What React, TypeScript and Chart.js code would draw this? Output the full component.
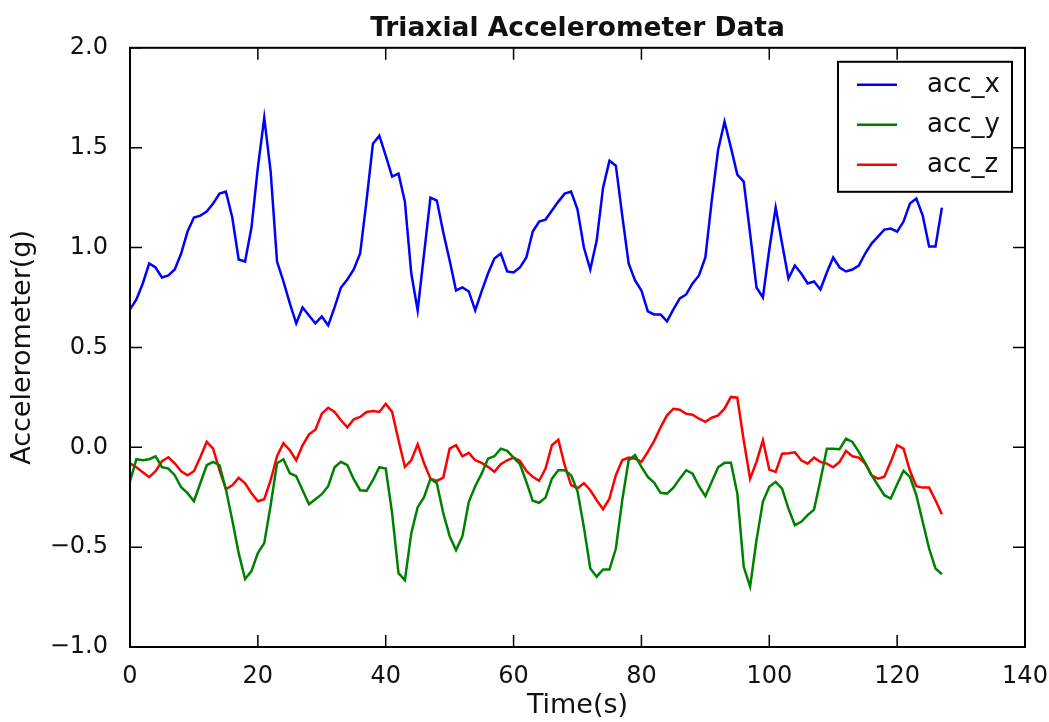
import React, { useEffect, useRef } from "react";
import { Chart, registerables } from "chart.js";

Chart.register(...registerables);

const chartTitle = "Triaxial Accelerometer Data";
const xAxisTitle = "Time(s)";
const yAxisTitle = "Accelerometer(g)";
const seriesNames = ["acc_x", "acc_y", "acc_z"];
const seriesColors = ["#0000ff", "#008000", "#ff0000"];

const xTickValues = [0, 20, 40, 60, 80, 100, 120, 140];
const yTickValues = [-1.0, -0.5, 0.0, 0.5, 1.0, 1.5, 2.0];
const yTickLabels = ["\u22121.0", "\u22120.5", "0.0", "0.5", "1.0", "1.5", "2.0"];

const accX = [
  0.69, 0.74, 0.82, 0.92, 0.9, 0.85, 0.86, 0.89, 0.97, 1.08,
  1.15, 1.16, 1.18, 1.22, 1.27, 1.28, 1.15, 0.94, 0.93, 1.1,
  1.4, 1.65, 1.38, 0.93, 0.83, 0.72, 0.62, 0.7, 0.66, 0.62,
  0.655, 0.61, 0.7, 0.8, 0.84, 0.89, 0.97, 1.235, 1.52, 1.56,
  1.46, 1.355, 1.37, 1.23, 0.87, 0.685, 0.97, 1.25, 1.235, 1.077,
  0.935, 0.785, 0.8, 0.78, 0.685, 0.78, 0.87, 0.945, 0.97, 0.88,
  0.875, 0.9, 0.95, 1.08, 1.13, 1.14, 1.185, 1.23, 1.27, 1.28,
  1.19, 1.0, 0.89, 1.035, 1.3, 1.435, 1.41, 1.16, 0.92, 0.835,
  0.785, 0.68, 0.665, 0.665, 0.63, 0.69, 0.745, 0.765, 0.82, 0.86,
  0.95, 1.235, 1.49, 1.63, 1.5, 1.365, 1.33, 1.07, 0.8, 0.75,
  0.99, 1.2, 1.02, 0.845, 0.91, 0.87, 0.82, 0.83, 0.79, 0.875,
  0.95, 0.9, 0.88, 0.89, 0.91, 0.97, 1.02, 1.055, 1.09, 1.095,
  1.08, 1.13, 1.22, 1.245, 1.16, 1.005, 1.005, 1.2,
];

const accY = [
  -0.17, -0.06, -0.065, -0.06, -0.045, -0.1, -0.107, -0.14, -0.2, -0.23,
  -0.27, -0.18, -0.09, -0.073, -0.09, -0.21, -0.365, -0.53, -0.66, -0.62,
  -0.53, -0.48, -0.29, -0.08, -0.06, -0.13, -0.145, -0.215, -0.285, -0.26,
  -0.235, -0.195, -0.1, -0.073, -0.09, -0.16, -0.215, -0.218, -0.165, -0.1,
  -0.107, -0.33, -0.63, -0.665, -0.43, -0.3, -0.25, -0.157, -0.18, -0.33,
  -0.445, -0.515, -0.445, -0.273, -0.195, -0.132, -0.057, -0.045, -0.007, -0.018,
  -0.052, -0.085, -0.173, -0.268, -0.278, -0.252, -0.157, -0.115, -0.115, -0.14,
  -0.22, -0.4, -0.607, -0.648, -0.612, -0.612, -0.507, -0.265, -0.065, -0.04,
  -0.098, -0.148, -0.178, -0.228, -0.232, -0.202, -0.157, -0.115, -0.132, -0.195,
  -0.245, -0.173, -0.1, -0.078, -0.078, -0.232, -0.598, -0.698, -0.465, -0.273,
  -0.198, -0.173, -0.207, -0.307, -0.39, -0.373, -0.34, -0.312, -0.165, -0.007,
  -0.007, -0.01, 0.043, 0.027, -0.023, -0.078, -0.14, -0.19, -0.24, -0.257,
  -0.185, -0.118, -0.148, -0.24, -0.373, -0.507, -0.607, -0.635,
];

const accZ = [
  -0.08, -0.1, -0.125, -0.15, -0.12, -0.07, -0.05, -0.08, -0.12, -0.14,
  -0.12, -0.05, 0.027, -0.007, -0.115, -0.21, -0.19, -0.153, -0.18, -0.23,
  -0.27, -0.26, -0.165, -0.045, 0.02, -0.015, -0.065, 0.01, 0.065, 0.088,
  0.168, 0.198, 0.177, 0.135, 0.1, 0.14, 0.152, 0.177, 0.182, 0.177,
  0.218, 0.177, 0.035, -0.098, -0.065, 0.015, -0.08, -0.157, -0.168, -0.152,
  -0.007, 0.01, -0.045, -0.028, -0.065, -0.078, -0.098, -0.123, -0.085, -0.065,
  -0.052, -0.068, -0.118, -0.148, -0.168, -0.107, 0.01, 0.038, -0.09, -0.19,
  -0.205, -0.18, -0.215, -0.265, -0.31, -0.257, -0.14, -0.065, -0.052, -0.057,
  -0.073, -0.023, 0.032, 0.1, 0.16, 0.193, 0.188, 0.168, 0.163, 0.143,
  0.127, 0.148, 0.16, 0.193, 0.252, 0.248, 0.035, -0.157, -0.073, 0.035,
  -0.112, -0.123, -0.032, -0.03, -0.025, -0.065, -0.082, -0.052, -0.073, -0.082,
  -0.1, -0.073, -0.018, -0.045, -0.052, -0.082, -0.14, -0.157, -0.148, -0.073,
  0.01, -0.007, -0.118, -0.195, -0.202, -0.202, -0.265, -0.335,
];

const seriesValues = [accX, accY, accZ];
const FONT = "'DejaVu Sans', sans-serif";
const TEXT = "#111";

const framePlugin = {
  id: "frameTicks",
  afterDatasetsDraw(chart: any) {
    const { ctx, chartArea: a, scales } = chart;
    const len = 12;
    ctx.save();
    ctx.strokeStyle = "#000";
    ctx.lineWidth = 1.5;
    ctx.beginPath();
    for (const t of xTickValues) {
      const px = scales.x.getPixelForValue(t);
      ctx.moveTo(px, a.bottom);
      ctx.lineTo(px, a.bottom - len);
      ctx.moveTo(px, a.top);
      ctx.lineTo(px, a.top + len);
    }
    for (const t of yTickValues) {
      const py = scales.y.getPixelForValue(t);
      ctx.moveTo(a.left, py);
      ctx.lineTo(a.left + len, py);
      ctx.moveTo(a.right, py);
      ctx.lineTo(a.right - len, py);
    }
    ctx.stroke();
    ctx.lineWidth = 2;
    ctx.strokeRect(a.left, a.top, a.right - a.left, a.bottom - a.top);
    ctx.restore();
  },
};

const legendPlugin = {
  id: "boxLegend",
  afterDraw(chart: any) {
    const { ctx, chartArea: a } = chart;
    const w = 174;
    const h = 130;
    const x0 = a.right - 13 - w;
    const y0 = a.top + 14;
    ctx.save();
    ctx.fillStyle = "#fff";
    ctx.fillRect(x0, y0, w, h);
    ctx.strokeStyle = "#000";
    ctx.lineWidth = 2;
    ctx.strokeRect(x0, y0, w, h);
    ctx.font = `26px ${FONT}`;
    ctx.textBaseline = "middle";
    ctx.textAlign = "left";
    chart.data.datasets.forEach((ds: any, i: number) => {
      const cy = y0 + 23 + i * 40;
      ctx.strokeStyle = ds.borderColor;
      ctx.lineWidth = 2.5;
      ctx.beginPath();
      ctx.moveTo(x0 + 19, cy);
      ctx.lineTo(x0 + 59, cy);
      ctx.stroke();
      ctx.fillStyle = TEXT;
      ctx.fillText(ds.label, x0 + 89, cy);
    });
    ctx.restore();
  },
};

export default function App() {
  const canvasRef = useRef<HTMLCanvasElement | null>(null);

  useEffect(() => {
    const canvas = canvasRef.current;
    if (!canvas) return;
    const datasets = seriesValues.map((vals, s) => ({
      label: seriesNames[s],
      data: vals.map((v, i) => ({ x: i, y: v })),
      borderColor: seriesColors[s],
      backgroundColor: seriesColors[s],
      borderWidth: 2.5,
      pointRadius: 0,
      tension: 0,
      fill: false,
    }));
    const chart = new Chart(canvas, {
      type: "line",
      data: { datasets },
      plugins: [framePlugin, legendPlugin],
      options: {
        animation: false,
        responsive: false,
        devicePixelRatio: 1,
        layout: { padding: { left: 0, right: 24, top: 0, bottom: 0 } },
        plugins: {
          legend: { display: false },
          tooltip: { enabled: false },
          title: {
            display: true,
            text: chartTitle,
            fullSize: false,
            color: TEXT,
            font: { family: FONT, size: 26.5, weight: "bold" },
            padding: { top: 13, bottom: 3 },
          },
        },
        scales: {
          x: {
            type: "linear",
            min: 0,
            max: 140,
            afterFit: (s: any) => {
              s.height = 75;
              s.paddingLeft = 0;
              s.paddingRight = 0;
            },
            afterBuildTicks: (s: any) => {
              s.ticks = xTickValues.map((v) => ({ value: v }));
            },
            ticks: {
              color: TEXT,
              font: { family: FONT, size: 24 },
              padding: 7,
              maxRotation: 0,
              callback: (v: any) => String(v),
            },
            grid: { display: false },
            border: { display: false },
            title: {
              display: true,
              text: xAxisTitle,
              color: TEXT,
              font: { family: FONT, size: 27 },
              padding: { top: 0, bottom: 0 },
            },
          },
          y: {
            type: "linear",
            min: -1,
            max: 2,
            afterFit: (s: any) => {
              s.width = 130;
              s.paddingTop = 0;
              s.paddingBottom = 0;
            },
            afterBuildTicks: (s: any) => {
              s.ticks = yTickValues.map((v) => ({ value: v }));
            },
            ticks: {
              color: TEXT,
              font: { family: FONT, size: 24 },
              padding: 14,
              callback: (v: any) => {
                const idx = yTickValues.findIndex((t) => Math.abs(t - v) < 1e-9);
                return idx >= 0 ? yTickLabels[idx] : "";
              },
            },
            grid: { display: false },
            border: { display: false },
            title: {
              display: true,
              text: yAxisTitle,
              color: TEXT,
              font: { family: FONT, size: 27 },
              padding: { top: 7, bottom: 0 },
            },
          },
        },
      },
    } as any);
    return () => chart.destroy();
  }, []);

  return (
    <div style={{ position: "fixed", left: 0, top: 0, width: 1049, height: 722, background: "#fff" }}>
      <canvas ref={canvasRef} width={1049} height={722} style={{ width: 1049, height: 722, display: "block" }} />
    </div>
  );
}
